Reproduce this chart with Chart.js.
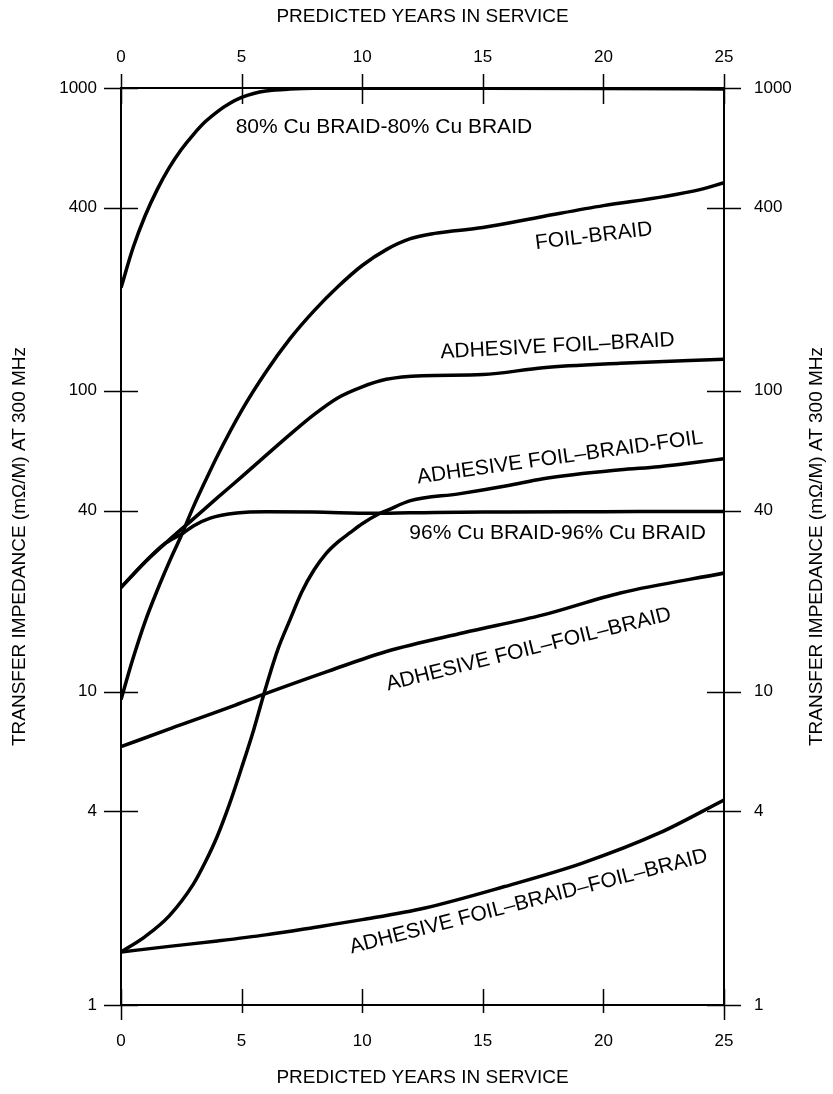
<!DOCTYPE html>
<html>
<head>
<meta charset="utf-8">
<script src="https://cdn.jsdelivr.net/npm/chart.js@4.4.1/dist/chart.umd.min.js"></script>
<style>
    html, body { margin: 0; padding: 0; background: #fff; }
</style>
</head>
<body>
<canvas id="impedance-chart" width="833" height="1094"></canvas>
<script>
const yearTicks = [0, 5, 10, 15, 20, 25];
const impedanceTicks = [1, 4, 10, 40, 100, 400, 1000];

// 80% Cu BRAID-80% Cu BRAID
const braid80Years = [0, 0.5, 1, 1.5, 2, 2.5, 3, 3.5, 4, 4.5, 5, 5.5, 6, 7, 8, 10, 15, 20, 25];
const braid80Values = [218, 295, 376, 459, 543, 624, 700, 773, 835, 888, 930, 959, 977, 992, 998, 998, 998, 997, 993];

// FOIL-BRAID
const foilBraidYears = [0, 0.5, 1, 1.5, 2, 2.5, 3, 3.5, 4, 5, 6, 7, 8, 9, 10, 11, 12, 13, 15, 17.5, 20, 22.5, 24, 25];
const foilBraidValues = [9.4, 12.9, 17.1, 21.7, 27.0, 33.1, 41.2, 50.3, 60.9, 85.9, 115, 148, 183, 220, 258, 291, 316, 329, 344, 374, 406, 435, 459, 484];

// ADHESIVE FOIL-BRAID
const adhFoilBraidYears = [0, 1, 2, 3, 4, 5, 6, 7, 8, 9, 10, 11, 12.5, 15, 17.5, 20.7, 25];
const adhFoilBraidValues = [22.2, 27.0, 32.0, 37.6, 44.2, 51.8, 60.9, 71.5, 83.3, 94.8, 103, 109, 112, 113, 119, 123, 127];

// 96% Cu BRAID-96% Cu BRAID
const braid96Years = [0, 1, 1.75, 2.6, 3.0, 3.7, 4.8, 6, 8, 10.5, 13, 16, 20, 25];
const braid96Values = [22.2, 27.0, 30.8, 33.8, 35.6, 37.8, 39.3, 39.7, 39.6, 39.2, 39.5, 39.6, 39.7, 39.8];

// ADHESIVE FOIL-BRAID-FOIL
const adhFbfYears = [0, 1, 2, 3, 3.5, 4, 4.5, 5, 5.5, 6, 6.5, 7, 7.5, 8, 8.5, 9, 9.5, 10, 10.7, 11, 12, 14, 16, 17.5, 20.7, 22.3, 25];
const adhFbfValues = [1.46, 1.63, 1.89, 2.37, 2.78, 3.35, 4.22, 5.57, 7.45, 10.3, 13.8, 17.3, 21.5, 25.4, 28.8, 31.5, 33.8, 36.2, 39.1, 40.0, 43.2, 45.5, 48.4, 51.1, 54.7, 56, 59.5];

// ADHESIVE FOIL-FOIL-BRAID
const adhFfbYears = [0, 2.1, 4.6, 5.85, 8.6, 11.0, 14.2, 17.5, 20.7, 25];
const adhFfbValues = [6.55, 7.55, 8.92, 9.75, 11.7, 13.6, 15.7, 18.0, 21.3, 24.8];

// ADHESIVE FOIL-BRAID-FOIL-BRAID
const adhFbfbYears = [0, 2, 4, 6, 8, 10, 12.6, 15.9, 19.1, 22.3, 25];
const adhFbfbValues = [1.46, 1.52, 1.58, 1.65, 1.74, 1.84, 2.0, 2.33, 2.75, 3.41, 4.35];

const curveLabels = [
    { text: "80% Cu BRAID-80% Cu BRAID", year: 10.9, value: 738, angle: 0 },
    { text: "FOIL-BRAID", year: 19.6, value: 322, angle: -7 },
    { text: "ADHESIVE FOIL\u2013BRAID", year: 18.1, value: 140, angle: -3 },
    { text: "ADHESIVE FOIL\u2013BRAID-FOIL", year: 18.2, value: 60, angle: -8 },
    { text: "96% Cu BRAID-96% Cu BRAID", year: 18.1, value: 33.8, angle: 0 },
    { text: "ADHESIVE FOIL\u2013FOIL\u2013BRAID", year: 16.9, value: 13.8, angle: -14 },
    { text: "ADHESIVE FOIL\u2013BRAID\u2013FOIL\u2013BRAID", year: 16.9, value: 2.09, angle: -14.5 }
];

const xTitle = "PREDICTED YEARS IN SERVICE";
const yTitle = "TRANSFER IMPEDANCE (m\u03A9/M) AT 300 MHz";

// the printed axis is not an exact log scale: where each tick sits (0 = bottom, 1 = top)
const axisStops = [[1, 0], [4, 0.2117], [10, 0.3418], [40, 0.5390], [100, 0.6699], [400, 0.8696], [1000, 1]];

const FONT = "'Liberation Sans', Arial, Helvetica, sans-serif";

class StretchedLogScale extends Chart.LogarithmicScale {
    static id = "stretchedLog";

    decimalFor(value) {
        const lv = Math.log10(value);
        for (let i = 0; i < axisStops.length - 1; i++) {
            const [v0, d0] = axisStops[i];
            const [v1, d1] = axisStops[i + 1];
            if (value <= v1 || i === axisStops.length - 2) {
                const l0 = Math.log10(v0), l1 = Math.log10(v1);
                return d0 + (d1 - d0) * (lv - l0) / (l1 - l0);
            }
        }
    }

    getPixelForValue(value) {
        if (value === null || value === undefined || isNaN(value) || value <= 0) {
            return NaN;
        }
        return this.getPixelForDecimal(this.decimalFor(value));
    }

    getValueForPixel(pixel) {
        const d = this.getDecimalForPixel(pixel);
        for (let i = 0; i < axisStops.length - 1; i++) {
            const [v0, d0] = axisStops[i];
            const [v1, d1] = axisStops[i + 1];
            if (d <= d1 || i === axisStops.length - 2) {
                const l0 = Math.log10(v0), l1 = Math.log10(v1);
                return Math.pow(10, l0 + (l1 - l0) * (d - d0) / (d1 - d0));
            }
        }
    }
}
Chart.register(StretchedLogScale);

const toPoints = (xs, ys) => xs.map((x, i) => ({ x, y: ys[i] }));

const curve = (xs, ys) => ({
    data: toPoints(xs, ys),
    borderColor: "#000",
    borderWidth: 3.5,
    pointRadius: 0,
    fill: false,
    cubicInterpolationMode: "monotone",
    xAxisID: "x",
    yAxisID: "y"
});

const frameAndText = {
    id: "frameAndText",
    afterDraw(chart) {
        const { ctx, chartArea: a, scales } = chart;
        ctx.save();
        ctx.strokeStyle = "#000";
        ctx.lineWidth = 2;
        ctx.strokeRect(a.left, a.top, a.right - a.left, a.bottom - a.top);

        ctx.lineWidth = 1.5;
        ctx.beginPath();
        impedanceTicks.forEach(v => {
            const y = Math.round(scales.y.getPixelForValue(v)) + 0.5;
            ctx.moveTo(a.left - 17, y);
            ctx.lineTo(a.left + 17, y);
            ctx.moveTo(a.right - 17, y);
            ctx.lineTo(a.right + 17, y);
        });
        yearTicks.forEach(v => {
            const x = Math.round(scales.x.getPixelForValue(v)) + 0.5;
            const edge = v === yearTicks[0] || v === yearTicks[yearTicks.length - 1];
            ctx.moveTo(x, a.top - 14);
            ctx.lineTo(x, a.top + 16);
            ctx.moveTo(x, a.bottom - 16);
            ctx.lineTo(x, a.bottom + (edge ? 15 : 8));
        });
        ctx.stroke();

        ctx.fillStyle = "#000";
        ctx.textAlign = "center";
        ctx.textBaseline = "middle";
        const cx = (a.left + a.right) / 2;
        const cy = (a.top + a.bottom) / 2;

        ctx.font = `19px ${FONT}`;
        ctx.fillText(xTitle, cx, 17);
        ctx.fillText(xTitle, cx, 1078);

        [20, 817].forEach(x => {
            ctx.save();
            ctx.translate(x, cy);
            ctx.rotate(-Math.PI / 2);
            ctx.fillText(yTitle, 0, 0);
            ctx.restore();
        });

        ctx.font = `21px ${FONT}`;
        curveLabels.forEach(label => {
            ctx.save();
            ctx.translate(scales.x.getPixelForValue(label.year), scales.y.getPixelForValue(label.value));
            ctx.rotate(label.angle * Math.PI / 180);
            ctx.fillText(label.text, 0, 0);
            ctx.restore();
        });
        ctx.restore();
    }
};

const xAxis = (position, height, padding) => ({
    type: "linear",
    position,
    min: 0,
    max: 25,
    afterBuildTicks: scale => { scale.ticks = yearTicks.map(value => ({ value })); },
    afterFit: scale => { scale.height = height; },
    grid: { display: false, drawTicks: false },
    border: { display: false },
    ticks: {
        autoSkip: false,
        maxRotation: 0,
        padding,
        color: "#000",
        font: { family: FONT, size: 17 },
        callback: value => String(value)
    }
});

const yAxis = (position, width, padding) => ({
    type: "stretchedLog",
    position,
    min: 1,
    max: 1000,
    afterBuildTicks: scale => { scale.ticks = impedanceTicks.map(value => ({ value })); },
    afterFit: scale => { scale.width = width; },
    grid: { display: false, drawTicks: false },
    border: { display: false },
    ticks: {
        autoSkip: false,
        padding,
        color: "#000",
        font: { family: FONT, size: 17 },
        callback: value => String(value)
    }
});

const ctx = document.getElementById("impedance-chart").getContext("2d");

new Chart(ctx, {
    type: "line",
    data: {
        datasets: [
            curve(braid80Years, braid80Values),
            curve(foilBraidYears, foilBraidValues),
            curve(adhFoilBraidYears, adhFoilBraidValues),
            curve(braid96Years, braid96Values),
            curve(adhFbfYears, adhFbfValues),
            curve(adhFfbYears, adhFfbValues),
            curve(adhFbfbYears, adhFbfbValues)
        ]
    },
    options: {
        responsive: false,
        animation: false,
        devicePixelRatio: 1,
        layout: { padding: 0 },
        plugins: {
            legend: { display: false },
            tooltip: { enabled: false }
        },
        scales: {
            x: xAxis("bottom", 89, 26),
            xTop: xAxis("top", 88, 20),
            y: yAxis("left", 121, 24),
            yRight: yAxis("right", 109, 30)
        }
    },
    plugins: [frameAndText]
});
</script>
</body>
</html>
